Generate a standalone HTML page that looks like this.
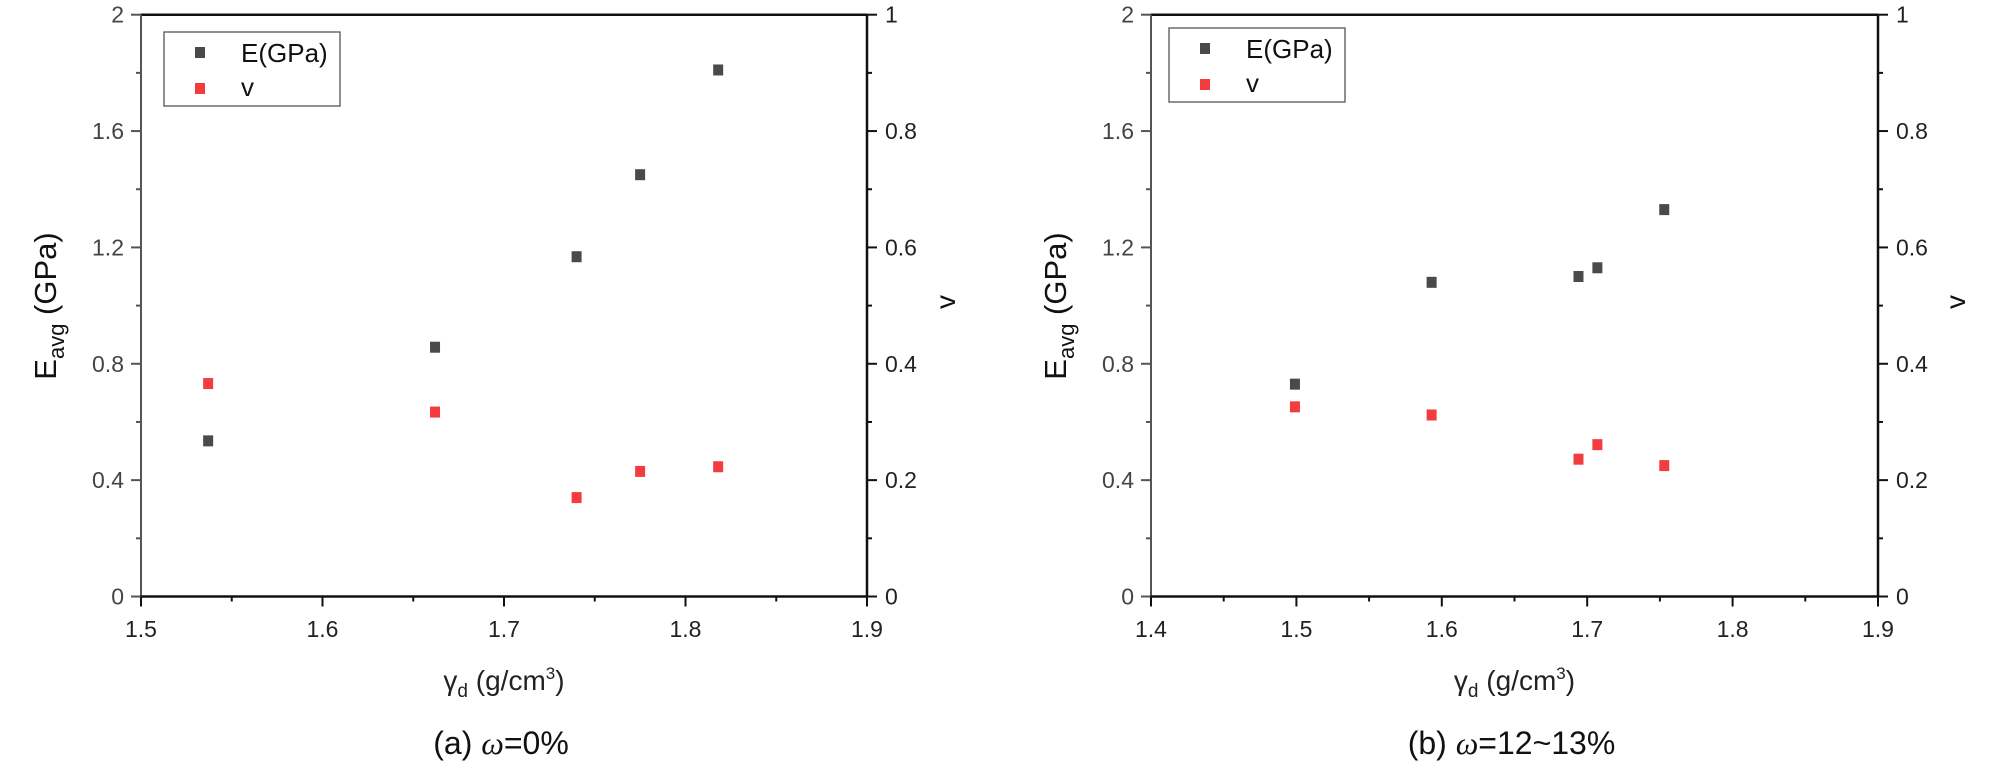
<!DOCTYPE html>
<html><head><meta charset="utf-8"><style>
html,body{margin:0;padding:0;background:#fff;}
svg{display:block;font-family:"Liberation Sans",sans-serif;}
</style></head><body>
<svg id="chart" width="2008" height="762" viewBox="0 0 2008 762" xmlns="http://www.w3.org/2000/svg"></svg>
<script>
// Panel (a) data
const xA = [1.537, 1.662, 1.740, 1.775, 1.818];
const eA = [0.535, 0.857, 1.168, 1.45, 1.81];
const vxA = [1.537, 1.662, 1.740, 1.775, 1.818];
const vA = [0.366, 0.317, 0.170, 0.215, 0.223];
// Panel (b) data
const xB = [1.499, 1.593, 1.694, 1.707, 1.753];
const eB = [0.73, 1.08, 1.10, 1.13, 1.33];
const vxB = [1.499, 1.593, 1.694, 1.707, 1.753];
const vB = [0.326, 0.312, 0.236, 0.261, 0.225];
const xTicksA = ["1.5","1.6","1.7","1.8","1.9"];
const xTicksB = ["1.4","1.5","1.6","1.7","1.8","1.9"];
const eTicks = ["0","0.4","0.8","1.2","1.6","2"];
const vTicks = ["0","0.2","0.4","0.6","0.8","1"];

const svg = document.getElementById('chart');
const NS = 'http://www.w3.org/2000/svg';
function mk(tag, attrs, parent){
  const el = document.createElementNS(NS, tag);
  for (const k in attrs) el.setAttribute(k, attrs[k]);
  (parent||svg).appendChild(el);
  return el;
}
const TOP = 14.7, BOT = 596.5;

function panel(id, L, R, xmin, xmax, xT, ex, ey, vx, vy, legX, legY, eTitleX, vTitleX, caption, capSuffix){
  const g = mk('g', {});
  
  
  const sx = v => L + (v - xmin) / (xmax - xmin) * (R - L);
  const sE = v => BOT - v / 2 * (BOT - TOP);
  const sV = v => BOT - v * (BOT - TOP);
  const ax = mk('g', {}, g);
  
  
  mk('line', {x1:L, y1:TOP, x2:R, y2:TOP, stroke:'#111', 'stroke-width':2.5}, ax);
  mk('line', {x1:L, y1:TOP, x2:L, y2:BOT, stroke:'#555', 'stroke-width':2}, ax);
  mk('line', {x1:R, y1:TOP, x2:R, y2:BOT+1, stroke:'#111', 'stroke-width':2.5}, ax);
  mk('line', {x1:L-1, y1:BOT, x2:R+1, y2:BOT, stroke:'#111', 'stroke-width':2.5}, ax);
  eTicks.forEach((t, i) => {
    const val = parseFloat(t); const y = sE(val);
    mk('line', {x1:L-10, y1:y, x2:L, y2:y, stroke:'#555', 'stroke-width':2}, ax);
    if (i < eTicks.length - 1) { const ym = sE(val + 0.2); mk('line', {x1:L-5, y1:ym, x2:L, y2:ym, stroke:'#555', 'stroke-width':2}, ax); }
    const tx = mk('text', {x:L-17, y:y+8, 'text-anchor':'end', 'font-size':23, fill:'#444'}, ax);
    tx.textContent = t;
    
    
  });
  vTicks.forEach((t, i) => {
    const val = parseFloat(t); const y = sV(val);
    mk('line', {x1:R, y1:y, x2:R+10, y2:y, stroke:'#111', 'stroke-width':2}, ax);
    if (i < vTicks.length - 1) { const ym = sV(val + 0.1); mk('line', {x1:R, y1:ym, x2:R+5, y2:ym, stroke:'#111', 'stroke-width':2}, ax); }
    const tx = mk('text', {x:R+18, y:y+8, 'text-anchor':'start', 'font-size':23, fill:'#222'}, ax);
    tx.textContent = t;
    
    
  });
  xT.forEach((t, i) => {
    const val = parseFloat(t); const x = sx(val);
    mk('line', {x1:x, y1:BOT, x2:x, y2:BOT+10, stroke:'#111', 'stroke-width':2}, ax);
    if (i < xT.length - 1) { const xm = sx(val + 0.05); mk('line', {x1:xm, y1:BOT, x2:xm, y2:BOT+5, stroke:'#111', 'stroke-width':2}, ax); }
    const tx = mk('text', {x:x, y:637, 'text-anchor':'middle', 'font-size':23, fill:'#222'}, ax);
    tx.textContent = t;
    
    
  });
  const xt = mk('text', {x:(L+R)/2, y:690, 'text-anchor':'middle', 'font-size':28, fill:'#222'}, g);
  xt.innerHTML = 'γ<tspan font-size="19" dy="7">d</tspan><tspan dy="-7"> (g/cm</tspan><tspan font-size="17" dy="-11">3</tspan><tspan dy="11">)</tspan>';
  
  
  const yt = mk('text', {x:0, y:0, 'text-anchor':'middle', 'font-size':31, fill:'#111', transform:`translate(${eTitleX},306) rotate(-90)`}, g);
  yt.innerHTML = 'E<tspan font-size="22" dy="8">avg</tspan><tspan dy="-8"> (GPa)</tspan>';
  
  
  const vt = mk('text', {x:0, y:0, 'text-anchor':'middle', 'font-size':28, fill:'#111', transform:`translate(${vTitleX},302) rotate(-90)`}, g);
  vt.textContent = 'v';
  
  
  const cp = mk('text', {x:(L+R)/2 - 3, y:754, 'text-anchor':'middle', 'font-size':32, fill:'#111'}, g);
  cp.innerHTML = caption + ' <tspan font-family="Liberation Serif" font-style="italic">ω</tspan>' + capSuffix;
  
  
  const sE_g = mk('g', {}, g);
  
  
  ex.forEach((xv, i) => {
    const r = mk('rect', {x:sx(xv)-5, y:sE(ey[i])-5.5, width:10, height:11, fill:'#4a4a4a'}, sE_g);
    
    
  });
  const sV_g = mk('g', {}, g);
  
  
  vx.forEach((xv, i) => {
    const r = mk('rect', {x:sx(xv)-5, y:sV(vy[i])-5.5, width:10, height:11, fill:'#f23c3f'}, sV_g);
    
    
  });
  const lg = mk('g', {}, g);
  
  
  mk('rect', {x:legX, y:legY, width:176, height:74, fill:'#fff', stroke:'#555', 'stroke-width':1.3}, lg);
  mk('rect', {x:legX+31, y:legY+15, width:10, height:11, fill:'#4a4a4a'}, lg);
  mk('rect', {x:legX+31, y:legY+51, width:10, height:11, fill:'#f23c3f'}, lg);
  const l1 = mk('text', {x:legX+77, y:legY+30, 'font-size':26, fill:'#111'}, lg);
  l1.textContent = 'E(GPa)';
  
  
  const l2 = mk('text', {x:legX+77, y:legY+64, 'font-size':26, fill:'#111'}, lg);
  l2.textContent = 'v';
  
  
}
panel('a', 141, 867, 1.5, 1.9, xTicksA, xA, eA, vxA, vA, 164, 32, 56, 955, '(a)', '=0%');
panel('b', 1151, 1878, 1.4, 1.9, xTicksB, xB, eB, vxB, vB, 1169, 28, 1066, 1965, '(b)', '=12~13%');
</script>
</body></html>
